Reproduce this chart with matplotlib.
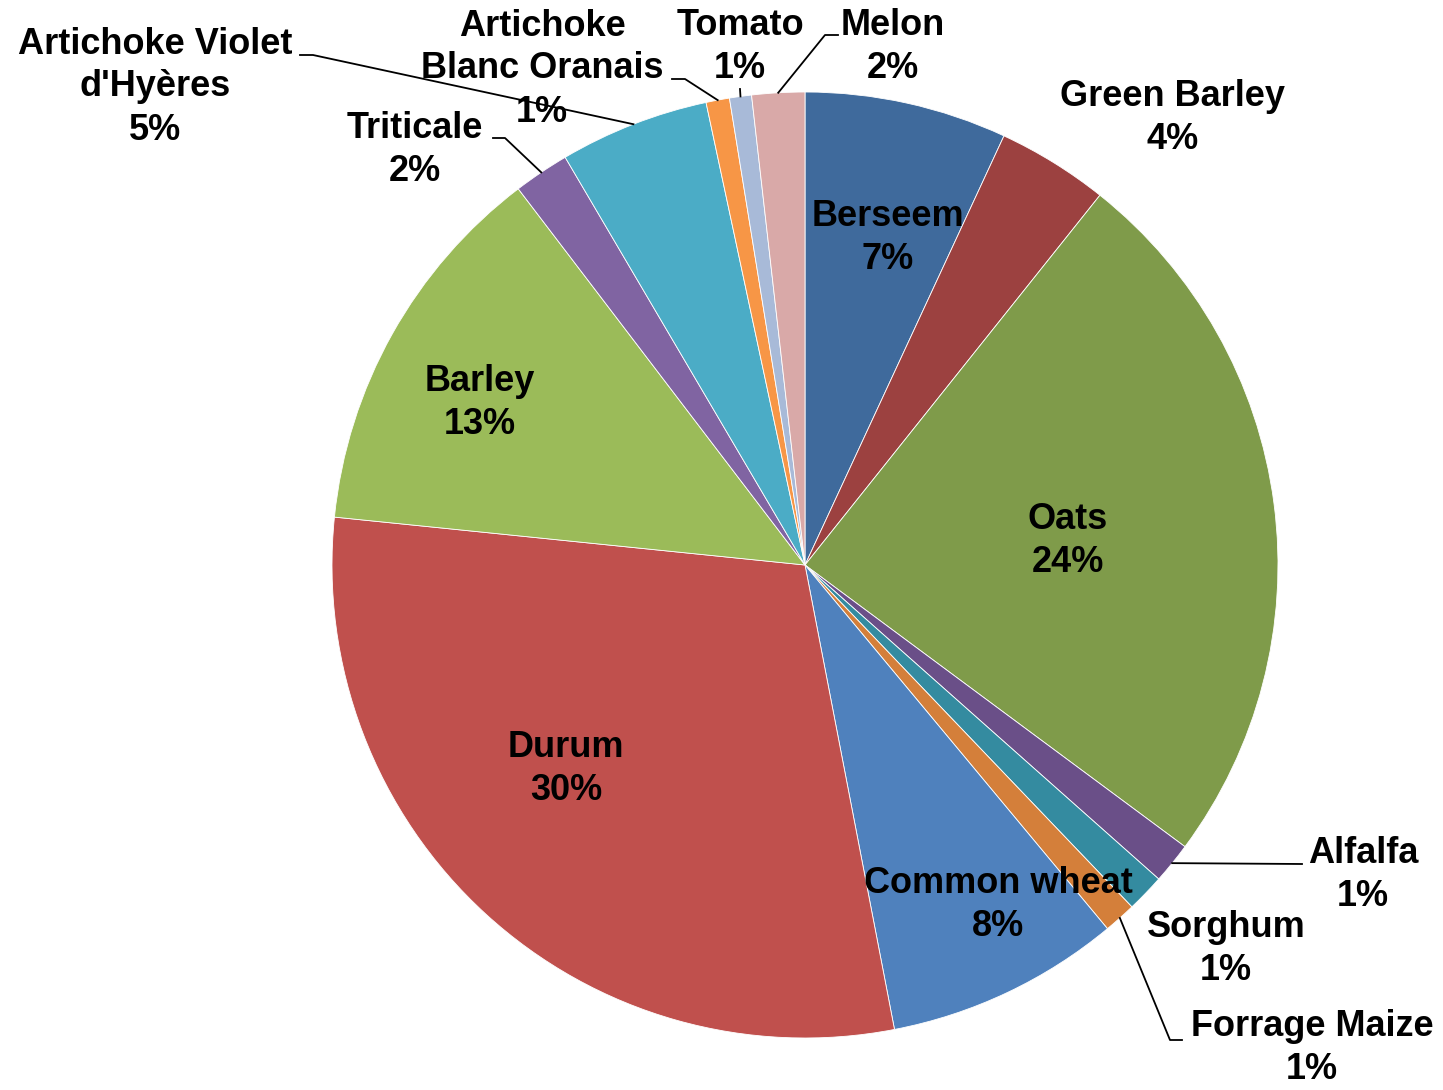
import numpy as np
import matplotlib
matplotlib.use("Agg")
import matplotlib.pyplot as plt

# crop shares, clockwise from 12 o'clock
crops = ["Berseem", "Green Barley", "Oats", "Alfalfa", "Sorghum", "Forrage Maize",
         "Common wheat", "Durum", "Barley", "Triticale",
         "Artichoke Violet\nd'Hyères", "Artichoke\nBlanc Oranais", "Tomato", "Melon"]
shares = [6.9, 3.8, 24.4, 1.4, 1.3, 1.1, 8.0, 29.6, 13.0, 1.9, 5.1, 0.8, 0.75, 1.8]
colors = ["#3F6A9C", "#9C4140", "#7F9B4A", "#6A4F88", "#348BA0", "#D47F3A",
          "#4F81BD", "#C0504D", "#9BBB59", "#8064A2", "#4BACC6", "#F79646",
          "#A8BAD8", "#D9A9A8"]

W, H = 1443, 1090
fig = plt.figure(figsize=(W / 100, H / 100), dpi=100)
ax = fig.add_axes([0, 0, 1, 1])

cx, cy, r = 805, H - 565, 473
wedges, _ = ax.pie(shares, colors=colors, startangle=90, counterclock=False,
                   center=(cx, cy), radius=r, frame=True,
                   wedgeprops=dict(edgecolor="white", linewidth=0.6))
ax.set_xlim(0, W)
ax.set_ylim(0, H)
ax.set_aspect("equal")
ax.axis("off")

total = sum(shares)

# label centres (pixel positions, y from top)
label_pos = {
    "Berseem": (888, 234), "Green Barley": (1173, 114), "Oats": (1068, 537),
    "Alfalfa": (1363, 871), "Sorghum": (1226, 945), "Forrage Maize": (1312, 1044),
    "Common wheat": (998, 901), "Durum": (566, 765), "Barley": (480, 399),
    "Triticale": (415, 146), "Artichoke Violet\nd'Hyères": (155, 83),
    "Artichoke\nBlanc Oranais": (542, 65), "Tomato": (740, 43), "Melon": (893, 43),
}

# leader lines: elbow points after the slice edge
leaders = {
    "Artichoke Violet\nd'Hyères": [(313, 55), (300, 55)],
    "Triticale": [(505, 138), (493, 138)],
    "Artichoke\nBlanc Oranais": [(685, 79), (672, 79)],
    "Tomato": [(740, 89)],
    "Melon": [(825, 35), (838, 35)],
    "Alfalfa": [(1302, 864)],
    "Forrage Maize": [(1170, 1040), (1182, 1040)],
}

line_step = 43  # distance between label lines, px

for name, val, w in zip(crops, shares, wedges):
    x, y = label_pos[name]
    lines = name.split("\n") + [f"{val / total * 100:.0f}%"]
    n = len(lines)
    for i, txt in enumerate(lines):
        ly = y + line_step * (i - (n - 1) / 2)
        ax.text(x, H - ly, txt, ha="center", va="center_baseline", fontsize=26,
                fontweight="bold", family="Liberation Sans", color="black")
    if name in leaders:
        mid = np.radians((w.theta1 + w.theta2) / 2)
        xs = [cx + r * np.cos(mid)] + [p[0] for p in leaders[name]]
        ys = [cy + r * np.sin(mid)] + [H - p[1] for p in leaders[name]]
        ax.plot(xs, ys, color="black", lw=1.3)

fig.savefig("out.png", dpi=100, facecolor="white")
